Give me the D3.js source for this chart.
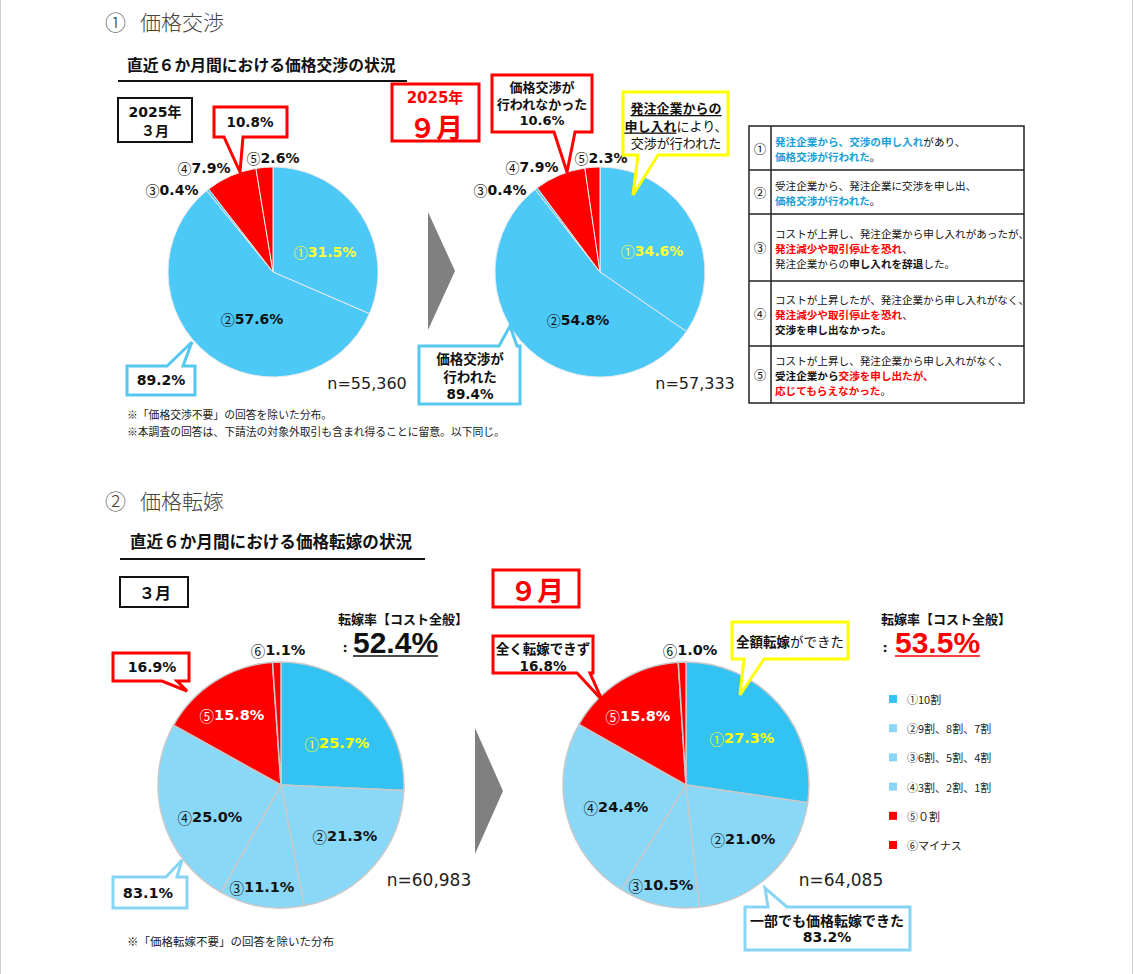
<!DOCTYPE html>
<html><head><meta charset="utf-8">
<script src="https://cdn.jsdelivr.net/npm/d3@7"></script>
<style>body{margin:0;background:#fff}svg{display:block}</style>
</head><body>
<script>
// ---------------- DATA ----------------
const negCategories = ["①","②","③","④","⑤"];
const negMar = [31.5, 57.6, 0.4, 7.9, 2.6];
const negSep = [34.6, 54.8, 0.4, 7.9, 2.3];
const negDone = [89.2, 89.4];      // ①+②
const negNotDone = [10.8, 10.6];   // ④+⑤
const negN = ["55,360", "57,333"];

const passCategories = ["①10割","②9割、8割、7割","③6割、5割、4割","④3割、2割、1割","⑤０割","⑥マイナス"];
const passMar = [25.7, 21.3, 11.1, 25.0, 15.8, 1.1];
const passSep = [27.3, 21.0, 10.5, 24.4, 15.8, 1.0];
const passPartial = [83.1, 83.2];
const passNone = [16.9, 16.8];
const passRate = [52.4, 53.5];
const passN = ["60,983", "64,085"];

const tableRows = [
  {num:"①", lines:[[["発注企業から、交渉の申し入れ","b"],["があり、","n"]],[["価格交渉が行われた","b"],["。","n"]]]},
  {num:"②", lines:[[["受注企業から、発注企業に交渉を申し出、","n"]],[["価格交渉が行われた","b"],["。","n"]]]},
  {num:"③", lines:[[["コストが上昇し、発注企業から申し入れがあったが、","n"]],[["発注減少や取引停止を恐れ","r"],["、","n"]],[["発注企業からの","n"],["申し入れを辞退","k"],["した。","n"]]]},
  {num:"④", lines:[[["コストが上昇したが、発注企業から申し入れがなく、","n"]],[["発注減少や取引停止を恐れ","r"],["、","n"]],[["交渉を申し出なかった。","k"]]]},
  {num:"⑤", lines:[[["コストが上昇し、発注企業から申し入れがなく、","n"]],[["受注企業から","k"],["交渉を申し出たが、","r"]],[["応じてもらえなかった","r"],["。","n"]]]}
];

// ---------------- STYLE ----------------
const JP = "'Noto Sans CJK JP', sans-serif";
const NUM = "'DejaVu Sans', 'Noto Sans CJK JP', sans-serif";
const BIG = "'Liberation Sans', Arial, sans-serif";
const RED = "#ff0000", BLUE_T = "#4dc9f7", YEL = "#ffff00";
const negColors = [BLUE_T, BLUE_T, BLUE_T, RED, RED];
const passColors = ["#33c3f3", "#8ad8f8", "#8ad8f8", "#8ad8f8", RED, RED];
const tableColors = {n:"#111", k:"#111", b:"#1c9fd8", r:"#ff0000"};

const W = 1135, H = 974;
const svg = d3.select("body").append("svg").attr("width", W).attr("height", H);
svg.append("line").attr("x1",0.5).attr("x2",0.5).attr("y1",0).attr("y2",H).attr("stroke","#ccc");
svg.append("line").attr("x1",W-2.5).attr("x2",W-2.5).attr("y1",0).attr("y2",H).attr("stroke","#ccc");

function txt(x, y, s, opt={}) {
  return svg.append("text").attr("x", x).attr("y", y)
    .attr("font-family", opt.ff || JP).attr("font-size", opt.fs || 12)
    .attr("font-weight", opt.fw || "normal").attr("fill", opt.fill || "#111")
    .attr("text-anchor", opt.anchor || "start").attr("dominant-baseline", "central")
    .text(s);
}
function multi(x, y0, dy, lines, opt={}) {
  const t = svg.append("text").attr("x", x).attr("font-size", opt.fs || 13)
    .attr("text-anchor", opt.anchor || "middle").attr("dominant-baseline", "central");
  lines.forEach((segs, i) => {
    segs.forEach((s, j) => {
      const ts = t.append("tspan").text(s[0])
        .attr("font-family", s[4] || JP).attr("font-weight", s[1] || "bold")
        .attr("fill", s[2] || "#111");
      if (j === 0) ts.attr("x", x).attr("y", y0 + i * dy);
      if (s[3]) ts.style("text-decoration", "underline");
    });
  });
  return t;
}
function bubble(b) {
  const {x, y, w, h, side, b1, b2, tx, ty, color, sw} = b;
  let p;
  if (side === "top")
    p = `M${x},${y}L${b1},${y}L${tx},${ty}L${b2},${y}L${x+w},${y}L${x+w},${y+h}L${x},${y+h}Z`;
  else
    p = `M${x},${y}L${x+w},${y}L${x+w},${y+h}L${b2},${y+h}L${tx},${ty}L${b1},${y+h}L${x},${y+h}Z`;
  svg.append("path").attr("d", p).attr("fill", "#fff").attr("stroke", color)
    .attr("stroke-width", sw || 3).attr("stroke-linejoin", "miter");
}
function box(x, y, w, h, color, sw) {
  svg.append("rect").attr("x", x).attr("y", y).attr("width", w).attr("height", h)
    .attr("fill", "#fff").attr("stroke", color).attr("stroke-width", sw);
}
function drawPie(cx, cy, r, values, cats, colors, stroke, sw, offsets, labelColors, fs) {
  const pie = d3.pie().sort(null).value(d => d)(values);
  const arc = d3.arc().innerRadius(0).outerRadius(r);
  const g = svg.append("g").attr("transform", `translate(${cx},${cy})`);
  g.selectAll("path").data(pie).join("path").attr("d", arc)
    .attr("fill", (d, i) => colors[i]).attr("stroke", stroke).attr("stroke-width", sw);
  pie.forEach((d, i) => {
    const t = g.append("text").attr("x", offsets[i][0]).attr("y", offsets[i][1])
      .attr("text-anchor", "middle").attr("dominant-baseline", "central")
      .attr("font-size", fs).attr("fill", labelColors[i]);
    t.append("tspan").attr("font-family", JP).attr("font-weight", "normal").text(cats[i].slice(0, 1));
    t.append("tspan").attr("font-family", NUM).attr("font-weight", "bold").text(values[i].toFixed(1) + "%");
  });
}
function chevron(x, y, w, h) {
  svg.append("path").attr("d", `M${x},${y}L${x+w},${y+h/2}L${x},${y+h}Z`).attr("fill", "#808080");
}

// ================= SECTION 1 =================
txt(105, 21, "①", {fs: 21, fw: 300, fill: "#444"});
txt(140, 21, "価格交渉", {fs: 21, fw: 300, fill: "#444"});
txt(127, 64, "直近６か月間における価格交渉の状況", {fs: 15.8, fw: "bold"});
svg.append("line").attr("x1", 118).attr("x2", 407).attr("y1", 81).attr("y2", 81).attr("stroke", "#111").attr("stroke-width", 2);

box(118, 98, 74, 44, "#111", 2);
multi(155, 112, 18, [[["2025年", "bold", "#111", false, NUM]], [["３月"]]], {fs: 14});

drawPie(273, 272, 105, negMar, negCategories, negColors, "#eaeaea", 1,
  [[52,-20],[-21,47],[-101,-82],[-69,-104],[0,-114]],
  ["#ffff33","#111","#111","#111","#111"], 14);
drawPie(600, 272, 105, negSep, negCategories, negColors, "#eaeaea", 1,
  [[52,-21],[-22,48],[-100,-82],[-68,-105],[1,-114]],
  ["#ffff33","#111","#111","#111","#111"], 14);

chevron(428, 212, 27, 118);

bubble({x:214, y:107, w:73, h:30, side:"bottom", b1:224, b2:243, tx:240, ty:172, color:RED, sw:3});
txt(250, 122, negNotDone[0].toFixed(1) + "%", {ff: NUM, fw: "bold", fs: 13.5, anchor: "middle"});
bubble({x:127, y:366, w:68, h:29, side:"top", b1:167, b2:183, tx:192, ty:342, color:"#55c8f2", sw:3});
txt(161, 380, negDone[0].toFixed(1) + "%", {ff: NUM, fw: "bold", fs: 14, anchor: "middle"});
txt(367, 383, "n=" + negN[0], {ff: NUM, fs: 16, anchor: "middle", fill: "#222"});

box(392, 84, 87, 57, RED, 3);
txt(435, 98, "2025年", {ff: NUM, fw: "bold", fs: 15, fill: RED, anchor: "middle"});
txt(436, 126, "９月", {fw: "bold", fs: 27, fill: RED, anchor: "middle"});

bubble({x:492, y:75, w:100, h:57, side:"bottom", b1:554, b2:575, tx:567, ty:172, color:RED, sw:3});
multi(542, 86, 17, [[["価格交渉が"]], [["行われなかった"]], [[negNotDone[1].toFixed(1) + "%", "bold", "#111", false, NUM]]], {fs: 13});

bubble({x:623, y:92, w:105, h:63, side:"bottom", b1:638, b2:658, tx:633, ty:195, color:YEL, sw:3});
multi(676, 107, 17.5, [
  [["発注企業からの", "bold", "#111", true]],
  [["申し入れ", "bold", "#111", true], ["により、", "normal"]],
  [["交渉が行われた", "normal"]]], {fs: 13});

bubble({x:419, y:346, w:101, h:58, side:"top", b1:499, b2:517, tx:510, ty:326, color:"#55c8f2", sw:3});
multi(470, 358, 18, [[["価格交渉が"]], [["行われた"]], [[negDone[1].toFixed(1) + "%", "bold", "#111", false, NUM]]], {fs: 13.5});
txt(695, 383, "n=" + negN[1], {ff: NUM, fs: 16, anchor: "middle", fill: "#222"});

txt(127, 414, "※「価格交渉不要」の回答を除いた分布。", {fs: 10.8, fill: "#222"});
txt(127, 431, "※本調査の回答は、下請法の対象外取引も含まれ得ることに留意。以下同じ。", {fs: 10.8, fill: "#222"});

// table
const tX0 = 749, tX1 = 1024, tXc = 771;
const rowB = [126, 170, 214, 281, 346, 403];
svg.append("rect").attr("x", tX0).attr("y", rowB[0]).attr("width", tX1 - tX0).attr("height", rowB[5] - rowB[0])
  .attr("fill", "none").attr("stroke", "#222").attr("stroke-width", 1.5);
svg.append("line").attr("x1", tXc).attr("x2", tXc).attr("y1", rowB[0]).attr("y2", rowB[5]).attr("stroke", "#222").attr("stroke-width", 1.5);
rowB.slice(1, 5).forEach(y => svg.append("line").attr("x1", tX0).attr("x2", tX1).attr("y1", y).attr("y2", y).attr("stroke", "#222").attr("stroke-width", 1.5));
tableRows.forEach((row, i) => {
  const cy = (rowB[i] + rowB[i + 1]) / 2;
  txt((tX0 + tXc) / 2, cy, row.num, {fs: 12.5, anchor: "middle"});
  const n = row.lines.length;
  const y0 = cy - (n - 1) * 15 / 2;
  multi(775, y0, 15, row.lines.map(l => l.map(s => [s[0], s[1] === "n" ? "normal" : "bold", tableColors[s[1]]])), {fs: 10.6, anchor: "start"});
});

// ================= SECTION 2 =================
txt(105, 500, "②", {fs: 21, fw: 300, fill: "#444"});
txt(140, 500, "価格転嫁", {fs: 21, fw: 300, fill: "#444"});
txt(130, 541, "直近６か月間における価格転嫁の状況", {fs: 16.6, fw: "bold"});
svg.append("line").attr("x1", 120).attr("x2", 425).attr("y1", 559).attr("y2", 559).attr("stroke", "#111").attr("stroke-width", 2);

box(120, 577, 68, 30, "#111", 2);
txt(155, 592, "３月", {fw: "bold", fs: 16, anchor: "middle"});
box(493, 570, 86, 37, RED, 3);
txt(537, 589, "９月", {fw: "bold", fs: 27, fill: RED, anchor: "middle"});

[[338, 345, 353, "#111"], [881, 885, 895, RED]].forEach((p, i) => {
  txt(p[0], 618, "転嫁率【コスト全般】", {fw: "bold", fs: 13});
  txt(p[1], 647, ":", {ff: NUM, fw: "bold", fs: 13, anchor: "middle"});
  const t = svg.append("text").attr("x", p[2]).attr("y", 653).attr("font-family", BIG)
    .attr("font-weight", "bold").attr("font-size", 30).attr("fill", p[3]).text(passRate[i].toFixed(1) + "%");
  const wLen = t.node().getComputedTextLength();
  svg.append("line").attr("x1", p[2]).attr("x2", p[2] + wLen).attr("y1", 656).attr("y2", 656)
    .attr("stroke", p[3]).attr("stroke-width", 1.6);
});

drawPie(281, 785, 123, passMar, passCategories, passColors, "#c9c9c9", 1.5,
  [[56,-42],[64,51],[-19,102],[-71,32],[-49,-70],[-3,-135]],
  ["#ffff00","#111","#111","#111","#fff","#111"], 14.5);
drawPie(686, 785, 123, passSep, passCategories, passColors, "#c9c9c9", 1.5,
  [[56,-47],[57,54],[-25,100],[-70,22],[-48,-69],[4,-135]],
  ["#ffff00","#111","#111","#111","#fff","#111"], 14.5);

chevron(475, 728, 28, 126);

bubble({x:113, y:653, w:76, h:28, side:"bottom", b1:162, b2:177, tx:187, ty:691, color:RED, sw:3});
txt(152, 667, passNone[0].toFixed(1) + "%", {ff: NUM, fw: "bold", fs: 14, anchor: "middle"});
bubble({x:113, y:877, w:74, h:31, side:"top", b1:166, b2:177, tx:182, ty:860, color:"#86d5f5", sw:3});
txt(148, 893, passPartial[0].toFixed(1) + "%", {ff: NUM, fw: "bold", fs: 14.5, anchor: "middle"});
txt(429, 880, "n=" + passN[0], {ff: NUM, fs: 17, anchor: "middle", fill: "#222"});

bubble({x:493, y:636, w:100, h:37, side:"bottom", b1:577, b2:590, tx:602, ty:700, color:RED, sw:3});
multi(543, 648, 18, [[["全く転嫁できず"]], [[passNone[1].toFixed(1) + "%", "bold", "#111", false, NUM]]], {fs: 13.5});
bubble({x:732, y:622, w:116, h:37, side:"bottom", b1:744, b2:764, tx:740, ty:695, color:YEL, sw:3});
multi(790, 641, 0, [[["全額転嫁", "bold"], ["ができた", "normal"]]], {fs: 13.5});
bubble({x:745, y:907, w:165, h:43, side:"top", b1:768, b2:787, tx:765, ty:888, color:"#86d5f5", sw:3});
multi(827, 920, 17, [[["一部でも価格転嫁できた"]], [[passPartial[1].toFixed(1) + "%", "bold", "#111", false, NUM]]], {fs: 14});
txt(841, 880, "n=" + passN[1], {ff: NUM, fs: 17, anchor: "middle", fill: "#222"});

txt(127, 941, "※「価格転嫁不要」の回答を除いた分布", {fs: 11.5, fill: "#222"});

const legY = d3.scalePoint().domain(passCategories).range([699, 845]);
passCategories.forEach((c, i) => {
  svg.append("rect").attr("x", 889).attr("y", legY(c) - 4).attr("width", 8).attr("height", 8).attr("fill", passColors[i]);
  txt(907, legY(c), c, {fs: 11, fill: "#222"});
});
</script>
</body></html>
